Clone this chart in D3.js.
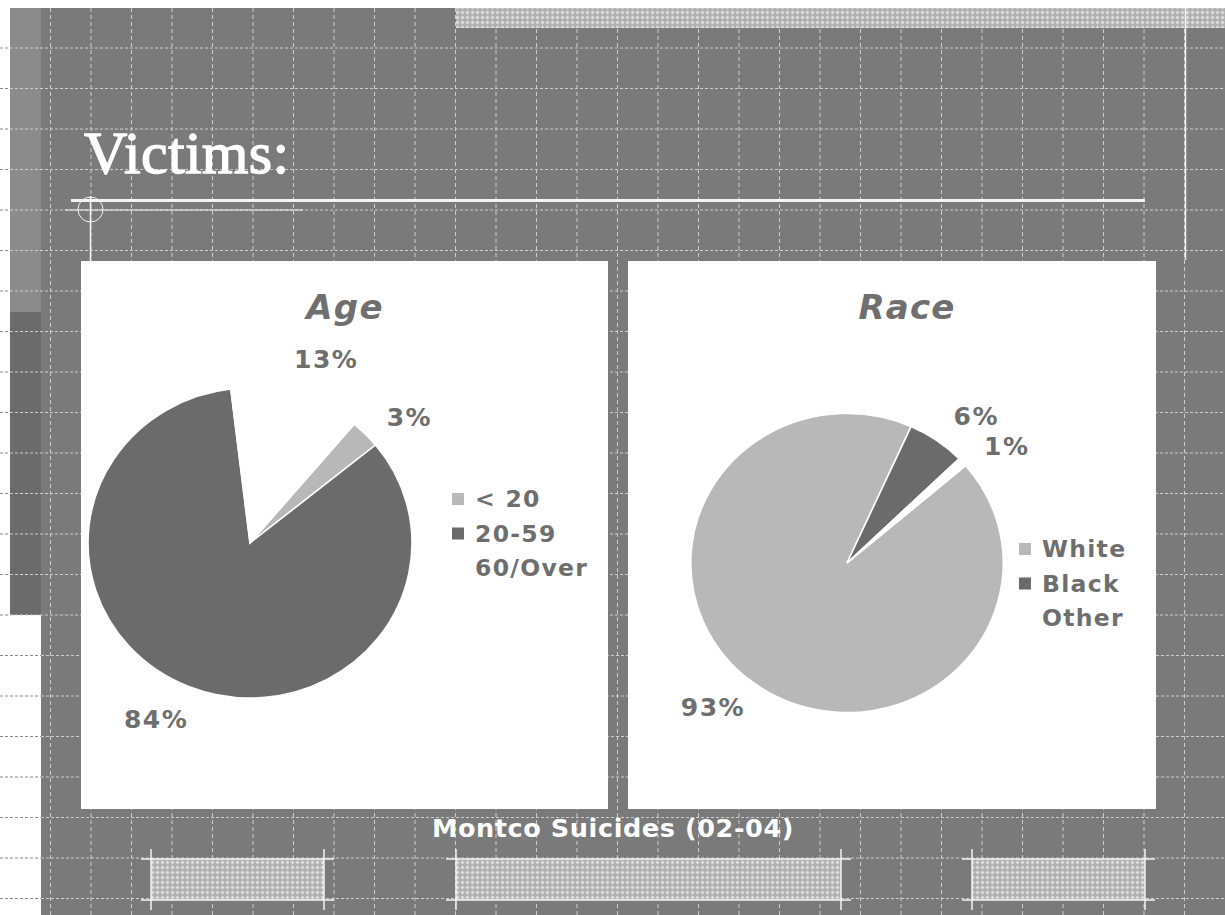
<!DOCTYPE html>
<html>
<head>
<meta charset="utf-8">
<script src="https://d3js.org/d3.v7.min.js"></script>
<style>
  body { margin: 0; background: #ffffff; }
  svg { display: block; }
</style>
</head>
<body>
<div id="chart"></div>
<script>
// ---- data ----
const ageCategories = ["< 20", "20-59", "60/Over"];
const ageValues = [3, 84, 13];

const raceCategories = ["White", "Black", "Other"];
const raceValues = [93, 6, 1];

const slideTitle = "Victims:";
const footerText = "Montco Suicides (02-04)";

const width = 1225;
const height = 915;

const svg = d3.select("#chart")
    .append("svg")
    .attr("width", width)
    .attr("height", height)
    .attr("viewBox", `0 0 ${width} ${height}`);

// hatch pattern for the decorative strips
const defs = svg.append("defs");
const hatch = defs.append("pattern")
    .attr("id", "hatch")
    .attr("patternUnits", "userSpaceOnUse")
    .attr("width", 5)
    .attr("height", 5);
hatch.append("rect")
    .attr("width", 5)
    .attr("height", 5)
    .attr("fill", "#b0b0b0");
hatch.append("path")
    .attr("d", "M2.5,0.5 L4.5,2.5 L2.5,4.5 L0.5,2.5 Z")
    .attr("fill", "#dedede");

// ---- slide background ----
svg.append("rect")
    .attr("x", 41).attr("y", 8)
    .attr("width", width - 41).attr("height", height - 8)
    .attr("fill", "#7a7a7a");

svg.append("rect")
    .attr("x", 10).attr("y", 8)
    .attr("width", 31).attr("height", 304)
    .attr("fill", "#8b8b8b");

svg.append("rect")
    .attr("x", 10).attr("y", 312)
    .attr("width", 31).attr("height", 303)
    .attr("fill", "#6b6b6b");

// dashed grid
const gridX = d3.range(50.5, width, 40.5);
const gridY = d3.range(48, height, 40.5);

svg.append("g")
    .selectAll("line")
    .data(gridY)
    .join("line")
    .attr("x1", d => d > 615 ? 41 : 10)
    .attr("x2", width)
    .attr("y1", d => d)
    .attr("y2", d => d)
    .attr("stroke", "#cdcdcd")
    .attr("stroke-width", 1)
    .attr("stroke-dasharray", "3,2");

// the part of the lines that sits on white paper reads dark
svg.append("g")
    .selectAll("line")
    .data(gridY)
    .join("line")
    .attr("x1", 0)
    .attr("x2", d => d > 615 ? 41 : 10)
    .attr("y1", d => d)
    .attr("y2", d => d)
    .attr("stroke", "#8a8a8a")
    .attr("stroke-width", 1)
    .attr("stroke-dasharray", "3,2");

svg.append("g")
    .selectAll("line")
    .data(gridX)
    .join("line")
    .attr("x1", d => d)
    .attr("x2", d => d)
    .attr("y1", 8)
    .attr("y2", height)
    .attr("stroke", "#cdcdcd")
    .attr("stroke-width", 1)
    .attr("stroke-dasharray", "4,3");

// top hatched strip + right guide line
svg.append("rect")
    .attr("x", 456).attr("y", 8)
    .attr("width", width - 456).attr("height", 20)
    .attr("fill", "url(#hatch)");

svg.append("line")
    .attr("x1", 1185.5).attr("x2", 1185.5)
    .attr("y1", 8).attr("y2", 260)
    .attr("stroke", "#f2f2f2")
    .attr("stroke-width", 1.5);

// bottom hatched strips with crop marks
const strips = [[151, 324], [456, 841], [972, 1145]];
const stripTop = 859;
const stripBottom = 900;

strips.forEach(([x0, x1]) => {
    svg.append("rect")
        .attr("x", x0).attr("y", stripTop)
        .attr("width", x1 - x0).attr("height", stripBottom - stripTop)
        .attr("fill", "url(#hatch)");

    [stripTop, stripBottom].forEach(y => {
        svg.append("line")
            .attr("x1", x0 - 10).attr("x2", x1 + 10)
            .attr("y1", y).attr("y2", y)
            .attr("stroke", "#f4f4f4")
            .attr("stroke-width", 1.5);
    });
    [x0, x1].forEach(x => {
        svg.append("line")
            .attr("x1", x).attr("x2", x)
            .attr("y1", stripTop - 10).attr("y2", stripBottom + 10)
            .attr("stroke", "#f4f4f4")
            .attr("stroke-width", 1.5);
    });
});

// ---- slide title ----
svg.append("text")
    .text(slideTitle)
    .attr("x", 84)
    .attr("y", 173)
    .attr("fill", "#ffffff")
    .attr("stroke", "#ffffff")
    .attr("stroke-width", 1.3)
    .attr("font-family", "'Liberation Serif', 'DejaVu Serif', serif")
    .attr("font-size", 60)
    .attr("letter-spacing", 0.3);

svg.append("line")
    .attr("x1", 71).attr("x2", 1145)
    .attr("y1", 200.5).attr("y2", 200.5)
    .attr("stroke", "#f4f4f4")
    .attr("stroke-width", 3);

svg.append("line")
    .attr("x1", 65).attr("x2", 303)
    .attr("y1", 210).attr("y2", 210)
    .attr("stroke", "#f4f4f4")
    .attr("stroke-width", 1);

svg.append("circle")
    .attr("cx", 90.5).attr("cy", 209.5)
    .attr("r", 12.5)
    .attr("fill", "none")
    .attr("stroke", "#f4f4f4")
    .attr("stroke-width", 1);

svg.append("line")
    .attr("x1", 90.5).attr("x2", 90.5)
    .attr("y1", 196).attr("y2", 262)
    .attr("stroke", "#f4f4f4")
    .attr("stroke-width", 1.5);

// ---- pie panels ----
const sliceColor = d3.scaleOrdinal()
    .domain([0, 1, 2])
    .range(["#b8b8b8", "#6b6b6b", "#ffffff"]);

const textGrey = "#6e6e6e";
const sansFont = "'DejaVu Sans', Verdana, sans-serif";
const percent = d3.format(".0%");
const deg = Math.PI / 180;

const pieChart = (cfg) => {
    const panel = svg.append("g");

    panel.append("rect")
        .attr("x", cfg.panel.x).attr("y", cfg.panel.y)
        .attr("width", cfg.panel.w).attr("height", cfg.panel.h)
        .attr("fill", "#ffffff");

    panel.append("text")
        .text(cfg.title)
        .attr("x", cfg.titleX)
        .attr("y", 319)
        .attr("text-anchor", "middle")
        .attr("fill", "#6f6f6f")
        .attr("font-family", sansFont)
        .attr("font-weight", "bold")
        .attr("font-style", "italic")
        .attr("font-size", 34)
        .attr("letter-spacing", 1.2);

    const pie = d3.pie()
        .sort(null)
        .startAngle(cfg.startAngle)
        .endAngle(cfg.startAngle + 2 * Math.PI);

    const arcs = pie(cfg.values);

    const arc = d3.arc()
        .innerRadius(0)
        .outerRadius(cfg.r);

    // the slide stretches the pies a little horizontally
    const stretch = 1.045;

    panel.append("g")
        .attr("transform", `translate(${cfg.cx}, ${cfg.cy}) scale(${stretch}, 1)`)
        .selectAll("path")
        .data(arcs)
        .join("path")
        .attr("d", arc)
        .attr("fill", (d, i) => sliceColor(i))
        .attr("stroke", "#ffffff")
        .attr("stroke-width", 1.5);

    const labelR = cfg.r + 43;
    const labelArc = d3.arc()
        .innerRadius(labelR)
        .outerRadius(labelR);
    const bias = 5 * deg;

    arcs.forEach(d => {
        const [lx, ly] = labelArc.centroid({startAngle: d.startAngle + bias, endAngle: d.endAngle + bias});
        panel.append("text")
            .text(percent(d.data / 100))
            .attr("x", cfg.cx + lx * stretch)
            .attr("y", cfg.cy + ly)
            .attr("dy", "0.36em")
            .attr("text-anchor", "middle")
            .attr("fill", textGrey)
            .attr("font-family", sansFont)
            .attr("font-weight", "bold")
            .attr("font-size", 25)
            .attr("letter-spacing", 1.5);
    });

    // legend
    const rowY = d3.scalePoint()
        .domain(cfg.categories)
        .range([0, 69]);

    const legend = panel.append("g")
        .attr("transform", `translate(${cfg.legendX}, ${cfg.legendY})`);

    cfg.categories.forEach((c, i) => {
        legend.append("rect")
            .attr("x", 0)
            .attr("y", rowY(c) - 6)
            .attr("width", 12)
            .attr("height", 12)
            .attr("fill", sliceColor(i));

        legend.append("text")
            .text(c)
            .attr("x", 23)
            .attr("y", rowY(c) + 8)
            .attr("fill", textGrey)
            .attr("font-family", sansFont)
            .attr("font-weight", "bold")
            .attr("font-size", 23.5)
            .attr("letter-spacing", 1.3);
    });
};

pieChart({
    title: "Age",
    categories: ageCategories,
    values: ageValues,
    panel: {x: 81, y: 261, w: 527, h: 548},
    titleX: 345,
    cx: 250, cy: 543, r: 155,
    startAngle: 40 * deg,
    legendX: 452, legendY: 499
});

pieChart({
    title: "Race",
    categories: raceCategories,
    values: raceValues,
    panel: {x: 628, y: 261, w: 528, h: 548},
    titleX: 907,
    cx: 847, cy: 563, r: 149.5,
    startAngle: 49.4 * deg,
    legendX: 1019, legendY: 549
});

// ---- footer ----
svg.append("text")
    .text(footerText)
    .attr("x", 613)
    .attr("y", 837)
    .attr("text-anchor", "middle")
    .attr("fill", "#ffffff")
    .attr("font-family", sansFont)
    .attr("font-weight", "bold")
    .attr("font-size", 25.5)
    .attr("letter-spacing", 0.6);
</script>
</body>
</html>
